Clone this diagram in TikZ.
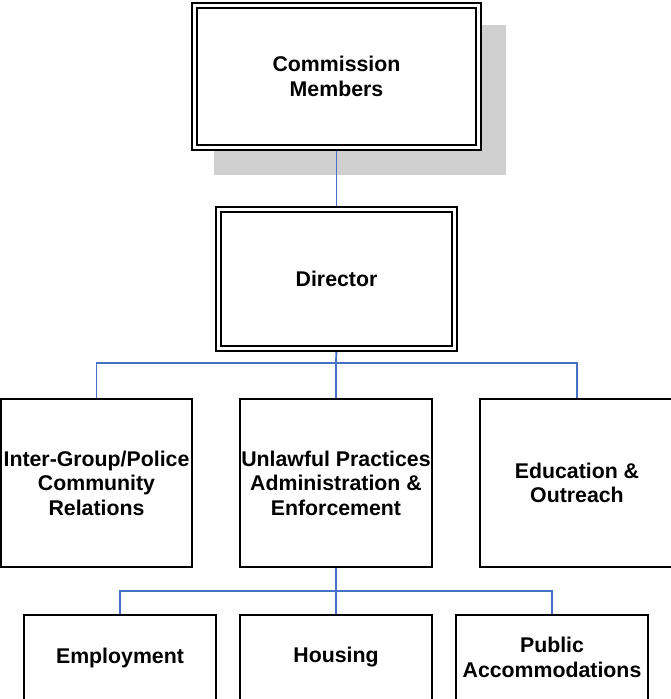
\documentclass[tikz,border=0pt]{standalone}
\usepackage{fontspec}
\setmainfont{Liberation Sans}
\usetikzlibrary{backgrounds}
\definecolor{connblue}{HTML}{4472C4}
\definecolor{shadowgray}{HTML}{CFCFCF}
\begin{document}
\begin{tikzpicture}[x=1pt,y=-1pt,
  txt/.style={font=\fontsize{21.3}{24.5}\selectfont\bfseries, align=center, inner sep=0pt},
  unitbox/.style={txt, draw=black, line width=1.5pt, fill=white, rectangle},
  dblbox/.style={txt, draw=black, line width=1.5pt, double=white, double distance=3.5pt, fill=white, rectangle},
  conn/.style={draw=connblue, line width=1.9pt}]
\useasboundingbox (0,0) rectangle (671,699);
\node[dblbox, minimum width=284pt, minimum height=142pt] (cm) at (336.5,76.5) {Commission\\Members};
\node[dblbox, minimum width=236pt, minimum height=139pt] (dir) at (336.5,279) {Director};
\node[unitbox, minimum width=191pt, minimum height=168pt] (ig) at (96.5,483) {Inter-Group/Police\\Community\\Relations};
\node[unitbox, minimum width=192pt, minimum height=168pt] (up) at (336,483) {Unlawful Practices\\Administration \&\\Enforcement};
\node[unitbox, minimum width=194pt, minimum height=168pt] (ed) at (577,483) {Education \&\\Outreach};
\node[unitbox, minimum width=192pt, minimum height=85pt] (em) at (120,657.5) {Employment};
\node[unitbox, minimum width=192pt, minimum height=85pt] (ho) at (336,657.5) {Housing};
\node[unitbox, minimum width=192pt, minimum height=85pt] (pa) at (552,657.5) {Public\\Accommodations};
\coordinate (bus1) at (336,363);
\coordinate (bus2) at (336,591);
\begin{pgfonlayer}{background}
  \fill[shadowgray] ([shift={(20.5,20.5)}]cm.north west) rectangle ([shift={(26.5,26.5)}]cm.south east);
  \draw[conn] (cm.south) -- (dir.north);
  \draw[conn] (dir.south) -- (bus1);
  \draw[conn] (ig.north) |- (bus1) -| (ed.north);
  \draw[conn] (bus1) -- (up.north);
  \draw[conn] (up.south) -- (bus2);
  \draw[conn] (em.north) |- (bus2) -| (pa.north);
  \draw[conn] (bus2) -- (ho.north);
\end{pgfonlayer}
\end{tikzpicture}
\end{document}
